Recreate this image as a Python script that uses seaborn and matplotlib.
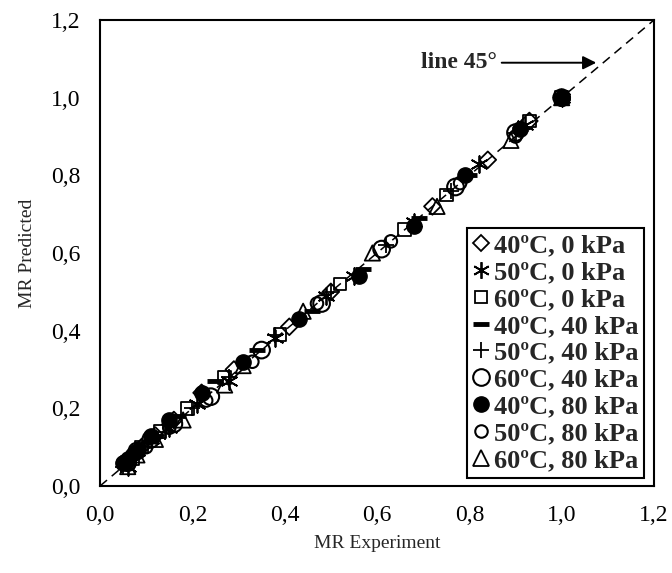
import matplotlib
matplotlib.use("Agg")
import matplotlib.pyplot as plt
import seaborn as sns
import pandas as pd
from matplotlib.lines import Line2D
from matplotlib.ticker import FuncFormatter

sns.set_style("white")
plt.rcParams['font.family'] = ['Liberation Serif', 'DejaVu Serif']

labels = ["40ºC, 0 kPa", "50ºC, 0 kPa", "60ºC, 0 kPa",
          "40ºC, 40 kPa", "50ºC, 40 kPa", "60ºC, 40 kPa",
          "40ºC, 80 kPa", "50ºC, 80 kPa", "60ºC, 80 kPa"]

exp_40_0 = [1.0, 0.93, 0.84, 0.72, 0.50, 0.41, 0.29, 0.22, 0.16, 0.12, 0.09, 0.07, 0.06]
pre_40_0 = [1.0, 0.94, 0.84, 0.72, 0.50, 0.41, 0.30, 0.24, 0.17, 0.13, 0.10, 0.08, 0.06]
exp_50_0 = [1.0, 0.92, 0.82, 0.68, 0.55, 0.49, 0.38, 0.28, 0.21, 0.15, 0.11, 0.08, 0.06]
pre_50_0 = [1.0, 0.93, 0.83, 0.68, 0.54, 0.49, 0.38, 0.27, 0.21, 0.15, 0.12, 0.09, 0.05]
exp_60_0 = [1.0, 0.93, 0.75, 0.66, 0.52, 0.39, 0.27, 0.19, 0.13, 0.09, 0.07, 0.06]
pre_60_0 = [1.0, 0.94, 0.75, 0.66, 0.52, 0.39, 0.28, 0.20, 0.14, 0.10, 0.07, 0.06]
exp_40_40 = [1.0, 0.91, 0.80, 0.69, 0.57, 0.46, 0.34, 0.25, 0.17, 0.12, 0.08, 0.06]
pre_40_40 = [1.0, 0.92, 0.80, 0.69, 0.56, 0.45, 0.35, 0.27, 0.18, 0.13, 0.09, 0.06]
exp_50_40 = [1.0, 0.90, 0.76, 0.62, 0.50, 0.38, 0.28, 0.20, 0.14, 0.10, 0.07, 0.05]
pre_50_40 = [1.0, 0.91, 0.76, 0.62, 0.50, 0.39, 0.28, 0.20, 0.14, 0.11, 0.08, 0.05]
exp_60_40 = [1.0, 0.90, 0.77, 0.61, 0.48, 0.35, 0.24, 0.16, 0.11, 0.08, 0.06]
pre_60_40 = [1.0, 0.91, 0.77, 0.61, 0.47, 0.35, 0.23, 0.16, 0.12, 0.09, 0.06]
exp_40_80 = [1.0, 0.91, 0.79, 0.68, 0.56, 0.43, 0.31, 0.22, 0.15, 0.11, 0.08, 0.06, 0.05]
pre_40_80 = [1.0, 0.92, 0.80, 0.67, 0.54, 0.43, 0.32, 0.24, 0.17, 0.13, 0.09, 0.07, 0.06]
exp_50_80 = [1.0, 0.90, 0.78, 0.63, 0.47, 0.33, 0.23, 0.15, 0.10, 0.07, 0.05]
pre_50_80 = [1.0, 0.90, 0.78, 0.63, 0.47, 0.32, 0.22, 0.15, 0.10, 0.08, 0.06]
exp_60_80 = [1.0, 0.89, 0.73, 0.59, 0.44, 0.31, 0.27, 0.18, 0.12, 0.08, 0.06]
pre_60_80 = [1.0, 0.89, 0.72, 0.60, 0.45, 0.31, 0.26, 0.17, 0.12, 0.08, 0.05]

exps = [exp_40_0, exp_50_0, exp_60_0, exp_40_40, exp_50_40, exp_60_40, exp_40_80, exp_50_80, exp_60_80]
preds = [pre_40_0, pre_50_0, pre_60_0, pre_40_40, pre_50_40, pre_60_40, pre_40_80, pre_50_80, pre_60_80]

line_x = [0.0, 1.2]
line_y = [0.0, 1.2]
xticks = [0.0, 0.2, 0.4, 0.6, 0.8, 1.0, 1.2]

# marker styles: (marker, size(pt), filled, linewidth)
styles = [
    dict(marker='D', ms=8.5, fill=False, lw=1.3),
    dict(marker=(6, 2, 0), ms=12, fill=None, lw=1.3),
    dict(marker='s', ms=9, fill=False, lw=1.3),
    dict(marker='_', ms=12, fill=None, lw=3.5),
    dict(marker='+', ms=11, fill=None, lw=1.3),
    dict(marker='o', ms=12, fill=False, lw=1.5),
    dict(marker='o', ms=11, fill=True, lw=1.0),
    dict(marker='o', ms=9, fill=False, lw=1.5),
    dict(marker='^', ms=11, fill=False, lw=1.3),
]

fig = plt.figure(figsize=(6.72, 5.73), dpi=100)
ax = fig.add_axes([100/672, 1-486/573, 554/672, (486-20)/573])

sns.lineplot(x=line_x, y=line_y, ax=ax, color='black', linestyle=(0, (6, 4)),
             linewidth=1.1, zorder=1)

for lab, ex, pr, st in zip(labels, exps, preds, styles):
    df = pd.DataFrame({"exp": ex, "pred": pr})
    s = st['ms'] ** 2
    if st['fill'] is None:
        sns.scatterplot(data=df, x="exp", y="pred", ax=ax, marker=st['marker'], s=s,
                        color='black', linewidth=st['lw'], zorder=3)
    elif st['fill']:
        sns.scatterplot(data=df, x="exp", y="pred", ax=ax, marker=st['marker'], s=s,
                        facecolor='black', edgecolor='black', linewidth=st['lw'], zorder=3)
    else:
        sns.scatterplot(data=df, x="exp", y="pred", ax=ax, marker=st['marker'], s=s,
                        facecolor='none', edgecolor='black', linewidth=st['lw'], zorder=3)

ax.set_xlim(0, 1.2)
ax.set_ylim(0, 1.2)
ax.set_xticks(xticks)
ax.set_yticks(xticks)
fmt = FuncFormatter(lambda v, p: f"{v:.1f}".replace('.', ','))
ax.xaxis.set_major_formatter(fmt)
ax.yaxis.set_major_formatter(fmt)
ax.tick_params(length=0, labelsize=17, pad=14, colors='black')
for sp in ax.spines.values():
    sp.set_visible(True)
    sp.set_color('black')
    sp.set_linewidth(1.5)
ax.set_xlabel("MR Experiment", fontsize=14, labelpad=6)
ax.set_ylabel("MR Predicted", fontsize=14, labelpad=11)

ax.annotate("line 45°", xy=(1.075, 1.09), xytext=(0.86, 1.09),
            fontsize=17, fontweight='bold', ha='right', va='center',
            arrowprops=dict(arrowstyle='-|>', color='black', lw=1.4,
                            mutation_scale=20, shrinkA=1, shrinkB=0))

handles = []
for st in styles:
    if st['fill'] is None:
        h = Line2D([], [], linestyle='none', marker=st['marker'], markersize=st['ms'],
                   color='black', markeredgewidth=st['lw'])
    elif st['fill']:
        h = Line2D([], [], linestyle='none', marker=st['marker'], markersize=st['ms'],
                   markerfacecolor='black', markeredgecolor='black', markeredgewidth=st['lw'])
    else:
        h = Line2D([], [], linestyle='none', marker=st['marker'], markersize=st['ms'],
                   markerfacecolor='none', markeredgecolor='black', markeredgewidth=st['lw'])
    handles.append(h)

leg = ax.legend(handles, labels, loc='lower right', bbox_to_anchor=(0.982, 0.018),
                prop={'weight': 'bold', 'size': 19}, frameon=True, fancybox=False,
                handlelength=0.7, handletextpad=0.15, labelspacing=0.13,
                borderpad=0.2, borderaxespad=0.0)
leg.get_frame().set_edgecolor('black')
leg.get_frame().set_linewidth(1.5)
leg.get_frame().set_alpha(1)

fig.savefig("out.png", dpi=100)
